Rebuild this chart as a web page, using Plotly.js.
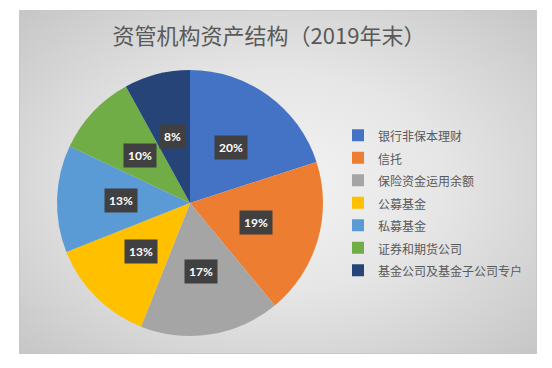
<!DOCTYPE html>
<html>
<head>
<meta charset="utf-8">
<script src="https://cdn.plot.ly/plotly-3.0.1.min.js"></script>
<style>
  html, body { margin: 0; padding: 0; background: #ffffff; }
  #bg { position: absolute; left: 19px; top: 10px; width: 516px; height: 342px;
        border: 1px solid #c8c8c8;
        background: radial-gradient(ellipse at 50% 50%, #f3f3f3 0%, #e6e6e6 45%, #d2d2d2 80%, #c6c6c6 100%); }
  #chart { position: absolute; left: 0; top: 0; width: 552px; height: 368px; }
</style>
</head>
<body>
<div id="bg"></div>
<div id="chart"></div>
<script>
// Data
const categories = ['银行非保本理财', '信托', '保险资金运用余额', '公募基金', '私募基金', '证券和期货公司', '基金公司及基金子公司专户'];
const shares = [20, 19, 17, 13, 13, 10, 8];
const colors = ['#4472C4', '#ED7D31', '#A5A5A5', '#FFC000', '#5B9BD5', '#70AD47', '#264478'];

const W = 552, H = 368;
// pie placement (pixels)
const pieCx = 190, pieCy = 203, pieR = 133;
const domX = [(pieCx - pieR) / W, (pieCx + pieR) / W];
const domY = [1 - (pieCy + pieR) / H, 1 - (pieCy - pieR) / H];

const total = shares.reduce((a, b) => a + b, 0);
const annotations = [];
let cum = 0;
shares.forEach((v) => {
  const mid = (cum + v / 2) / total * 2 * Math.PI; // clockwise from 12 o'clock
  cum += v;
  const rr = pieR * 0.52;
  const px = pieCx + rr * Math.sin(mid);
  const py = pieCy - rr * Math.cos(mid);
  annotations.push({
    x: px / W, y: 1 - py / H, xref: 'paper', yref: 'paper',
    xanchor: 'center', yanchor: 'middle',
    text: '<b>' + Math.round(v / total * 100) + '%</b>', showarrow: false,
    bgcolor: '#404040', borderpad: 4,
    font: { family: 'Lato, "Open Sans", sans-serif', size: 12, color: '#ffffff' }
  });
});

const trace = {
  type: 'pie',
  labels: categories.map(c => '<span style="font-size:12px">' + c + '</span>'),
  values: shares,
  sort: false,
  direction: 'clockwise',
  rotation: 0,
  textinfo: 'none',
  hoverinfo: 'label+percent',
  marker: { colors: colors, line: { width: 0 } },
  domain: { x: domX, y: domY }
};

const layout = {
  width: W, height: H,
  margin: { l: 0, r: 0, t: 0, b: 0 },
  paper_bgcolor: 'rgba(0,0,0,0)',
  plot_bgcolor: 'rgba(0,0,0,0)',
  title: {
    text: '资管机构资产结构（2019年末）',
    x: 269 / W, xanchor: 'center', y: 1 - 36 / H, yanchor: 'middle',
    font: { family: '"Noto Sans CJK SC", sans-serif', size: 22, color: '#595959' }
  },
  showlegend: true,
  legend: {
    x: 338 / W, xanchor: 'left', y: 1 - 203 / H, yanchor: 'middle',
    bgcolor: 'rgba(0,0,0,0)',
    font: { family: '"Noto Sans CJK SC", sans-serif', size: 15, color: '#595959' }
  },
  annotations: annotations
};

Plotly.newPlot('chart', [trace], layout, { displayModeBar: false, staticPlot: true });
</script>
</body>
</html>
